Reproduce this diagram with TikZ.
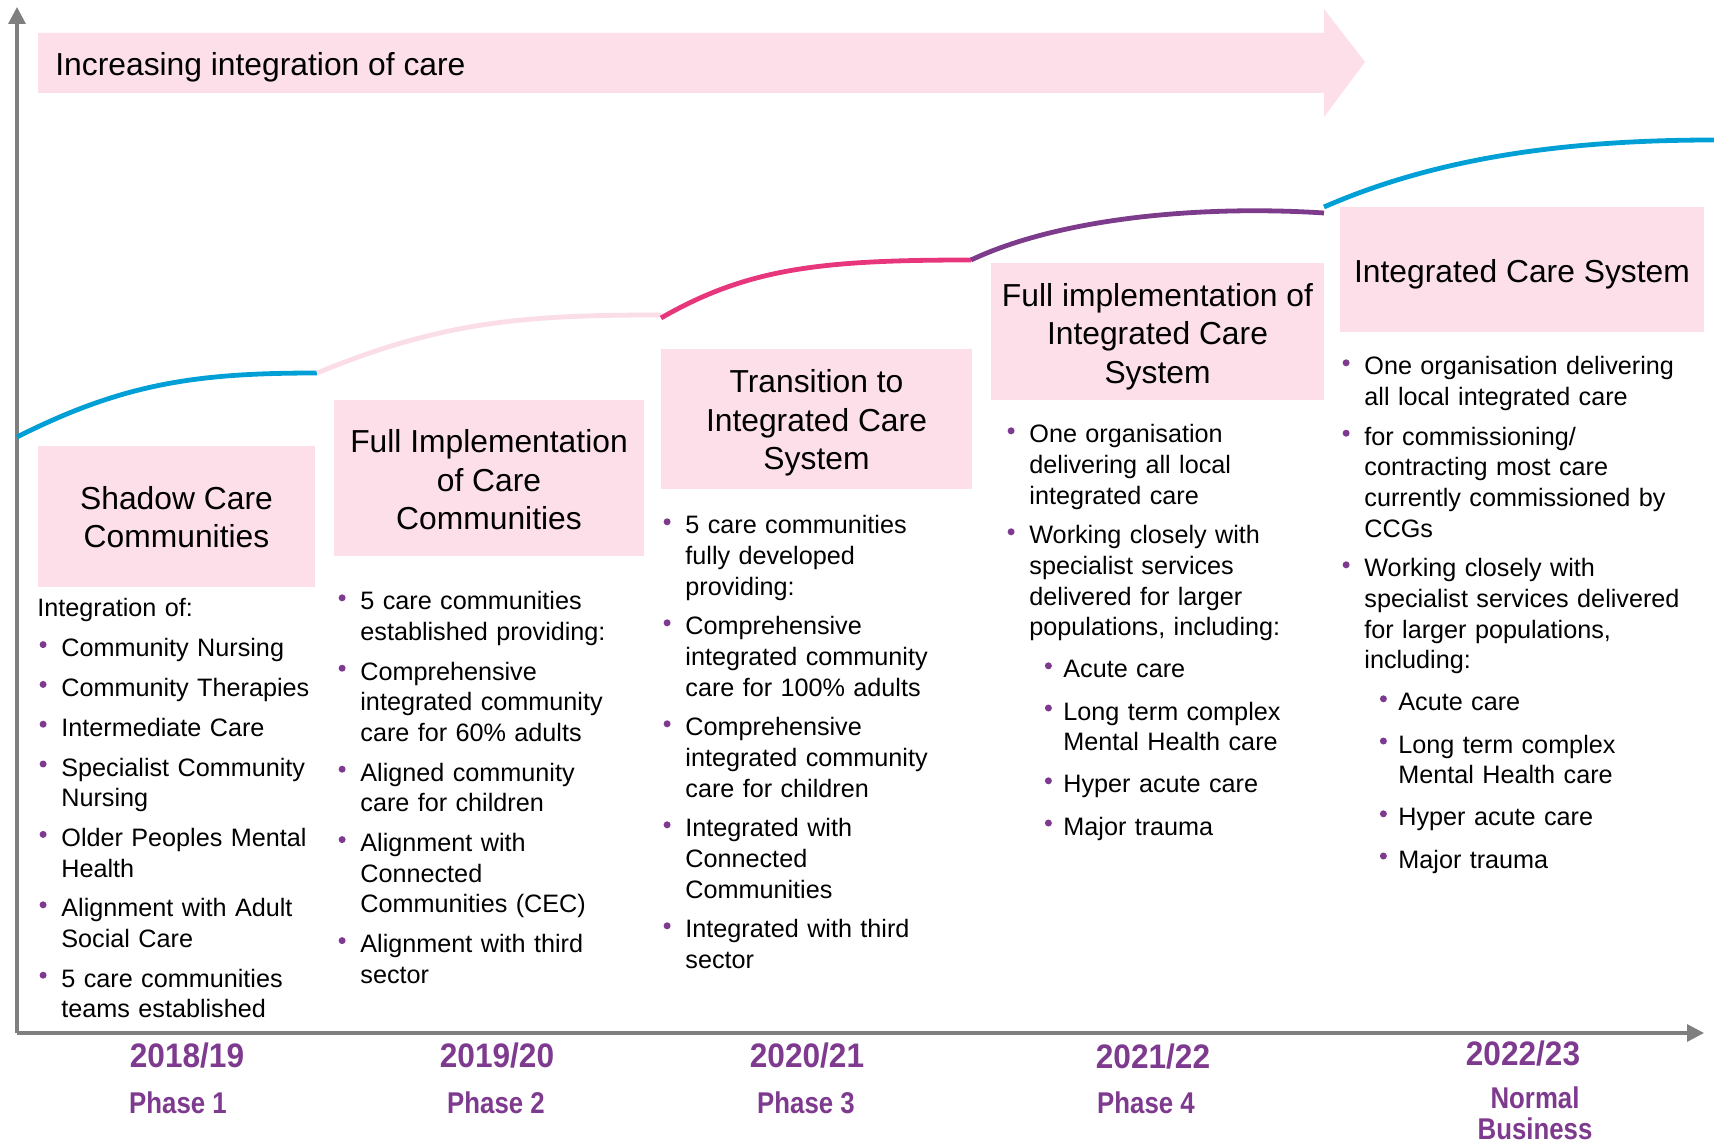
\documentclass[tikz,border=0pt]{standalone}
\usepackage{fontspec}
\usepackage{graphicx}
\setmainfont{Liberation Sans}
\usetikzlibrary{arrows.meta}
\definecolor{pinkfill}{HTML}{FCDFE9}
\definecolor{axisgrey}{HTML}{7F7F7F}
\definecolor{cblue}{HTML}{00A0D6}
\definecolor{cpinklight}{HTML}{FADDE7}
\definecolor{cmagenta}{HTML}{E8367C}
\definecolor{cpurple}{HTML}{7D3B8C}
\definecolor{txtpurple}{HTML}{7E3A8E}
\newcommand\bodyfont{\fontsize{12.6pt}{15.3pt}\selectfont}
\newcommand\headfont{\fontsize{15.9pt}{19.3pt}\selectfont}
\newcommand\yearfont{\fontsize{17pt}{20pt}\selectfont\bfseries}
\newcommand\phasefont{\fontsize{15pt}{15.5pt}\selectfont\bfseries}
\newcommand\pdot{\tikz[baseline=0pt]\fill[txtpurple] (1.75pt,6pt) circle[radius=1.75pt];}
\newcommand\bitem[1]{\hangindent=12pt\hangafter=1\noindent\strut\makebox[12pt][l]{\hspace*{1.1pt}\pdot}#1\par}
\newcommand\sitem[1]{\vspace{1.2pt}\hangindent=29pt\hangafter=1\noindent\strut\hspace*{19.75pt}\makebox[9.25pt][l]{\pdot}#1\par}
\tikzset{
  axisline/.style={draw=axisgrey, line width=1.6pt, -{Triangle[length=8.5pt,width=8.5pt]}},
  curve/.style={line width=2.4pt},
  stagetext/.style={inner sep=0pt, align=center, font=\headfont},
  col/.style={anchor=north west, inner sep=0pt, text width=220pt, align=left, font=\bodyfont},
  yearlbl/.style={text=txtpurple, font=\yearfont, inner sep=0pt},
  phaselbl/.style={text=txtpurple, font=\phasefont, inner sep=0pt, align=center},
}
\begin{document}
\begin{tikzpicture}[x=0.5pt, y=-0.5pt]
\useasboundingbox (0,0) rectangle (1714,1143);
% big arrow
\fill[pinkfill] (38,33) -- (1324,33) -- (1324,9) -- (1365,62) -- (1324,117) -- (1324,93) -- (38,93) -- cycle;
\node[anchor=west, inner sep=0pt, font=\headfont] (title) at (55,67) {Increasing integration of care};
% axes
\coordinate (origin) at (17,1033);
\coordinate (ytip) at (17,7);
\coordinate (xtip) at (1704,1033);
\draw[axisline] (origin) -- (ytip);
\draw[axisline] (origin) -- (xtip);
% curves
\coordinate (c0) at (17,437);
\coordinate (c1) at (317,373);
\coordinate (c2) at (661,315);
\coordinate (c2b) at (661,318);
\coordinate (c3) at (971,260);
\coordinate (c4) at (1324,213);
\coordinate (c4b) at (1324,207);
\coordinate (c5) at (1714,140);
\draw[curve, cblue] (c0) .. controls (124,383) and (197,373) .. (c1);
\draw[curve, cpinklight] (c1) .. controls (443,321) and (525,315) .. (c2);
\draw[curve, cmagenta] (c2b) .. controls (748,268) and (821,260) .. (c3);
\draw[curve, cpurple] (c3) .. controls (1060,218) and (1200,205) .. (c4);
\draw[curve, cblue] (c4b) .. controls (1434,159) and (1560,140) .. (c5);
% stage boxes
\fill[pinkfill] (38,446) rectangle (315,587);
\fill[pinkfill] (334,400) rectangle (644,556);
\fill[pinkfill] (661,349) rectangle (972,489);
\fill[pinkfill] (991,263) rectangle (1324,400);
\fill[pinkfill] (1340,207) rectangle (1704,332);
\node[stagetext] (s1) at (176.5,517.2) {Shadow Care\\Communities};
\node[stagetext] (s2) at (489,479.8) {Full Implementation\\of Care\\Communities};
\node[stagetext] (s3) at (816.5,423) {Transition to\\Integrated Care\\System};
\node[stagetext] (s4) at (1157.5,336.5) {Full implementation of\\Integrated Care\\System};
\node[stagetext] (s5) at (1522,274.5) {Integrated Care System};
% columns
\node[col] (t1) at (37,595) {\setlength\parskip{4.6pt}\noindent\strut Integration of:\par
\bitem{Community Nursing}
\bitem{Community Therapies}
\bitem{Intermediate Care}
\bitem{Specialist Community\newline Nursing}
\bitem{Older Peoples Mental\newline Health}
\bitem{Alignment with Adult\newline Social Care}
\bitem{5 care communities\newline teams established}};
\node[col] (t2) at (336,588) {\setlength\parskip{4.6pt}%
\bitem{5 care communities\newline established providing:}
\bitem{Comprehensive\newline integrated community\newline care for 60\% adults}
\bitem{Aligned community\newline care for children}
\bitem{Alignment with\newline Connected\newline Communities (CEC)}
\bitem{Alignment with third\newline sector}};
\node[col] (t3) at (661,512) {\setlength\parskip{4.6pt}%
\bitem{5 care communities\newline fully developed\newline providing:}
\bitem{Comprehensive\newline integrated community\newline care for 100\% adults}
\bitem{Comprehensive\newline integrated community\newline care for children}
\bitem{Integrated with\newline Connected\newline Communities}
\bitem{Integrated with third\newline sector}};
\node[col] (t4) at (1005,421) {\setlength\parskip{4.6pt}%
\bitem{One organisation\newline delivering all local\newline integrated care}
\bitem{Working closely with\newline specialist services\newline delivered for larger\newline populations, including:}
\sitem{Acute care}
\sitem{Long term complex\newline Mental Health care}
\sitem{Hyper acute care}
\sitem{Major trauma}};
\node[col] (t5) at (1340,353) {\setlength\parskip{4.6pt}%
\bitem{One organisation delivering\newline all local integrated care}
\bitem{for commissioning/\newline contracting most care\newline currently commissioned by\newline CCGs}
\bitem{Working closely with\newline specialist services delivered\newline for larger populations,\newline including:}
\sitem{Acute care}
\sitem{Long term complex\newline Mental Health care}
\sitem{Hyper acute care}
\sitem{Major trauma}};
% years
\node[yearlbl] (y1) at (187,1056) {\scalebox{0.93}[1]{2018/19}};
\node[yearlbl] (y2) at (497,1056) {\scalebox{0.93}[1]{2019/20}};
\node[yearlbl] (y3) at (807,1056) {\scalebox{0.93}[1]{2020/21}};
\node[yearlbl] (y4) at (1153,1057) {\scalebox{0.93}[1]{2021/22}};
\node[yearlbl] (y5) at (1523,1054) {\scalebox{0.93}[1]{2022/23}};
\node[phaselbl] (p1) at (178,1103) {\scalebox{0.86}[1]{Phase 1}};
\node[phaselbl] (p2) at (496,1103) {\scalebox{0.86}[1]{Phase 2}};
\node[phaselbl] (p3) at (806,1103) {\scalebox{0.86}[1]{Phase 3}};
\node[phaselbl] (p4) at (1146,1103) {\scalebox{0.86}[1]{Phase 4}};
\node[phaselbl] (p5) at (1535,1113) {\scalebox{0.86}[1]{Normal}\\\scalebox{0.86}[1]{Business}};
\end{tikzpicture}
\end{document}
